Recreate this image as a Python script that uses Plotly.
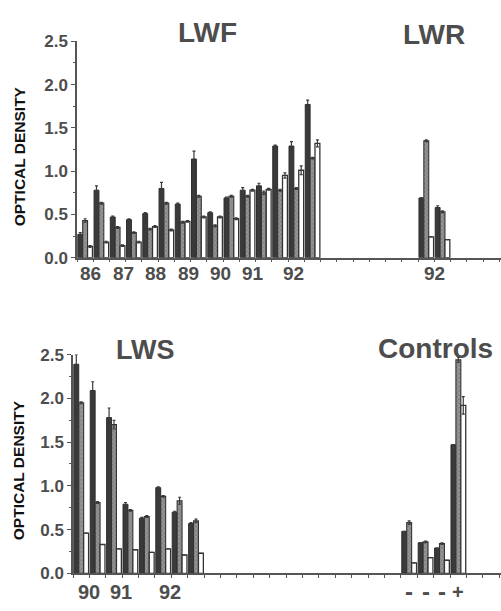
import plotly.graph_objects as go

W, H = 501, 611

# ---------------- data ----------------
# top panel: LWF (groups 0..14) and LWR (groups 21, 22)
lwf_groups = list(range(15))
lwf_dark  = [0.27, 0.78, 0.47, 0.44, 0.51, 0.80, 0.62, 1.14, 0.52, 0.69, 0.78, 0.83, 1.29, 1.29, 1.77]
lwf_dark_err = [0.02, 0.05, 0.01, 0.01, 0.01, 0.07, 0.01, 0.09, 0.01, 0.01, 0.03, 0.03, 0.01, 0.05, 0.05]
lwf_hatch = [0.43, 0.63, 0.35, 0.29, 0.33, 0.63, 0.41, 0.71, 0.37, 0.71, 0.71, 0.75, 0.78, 0.80, 1.15]
lwf_hatch_err = [0.02, 0.01, 0.01, 0.01, 0.01, 0.01, 0.01, 0.01, 0.01, 0.01, 0.01, 0.02, 0.01, 0.01, 0.01]
lwf_white = [0.13, 0.18, 0.14, 0.18, 0.36, 0.32, 0.42, 0.47, 0.47, 0.45, 0.78, 0.79, 0.95, 1.01, 1.32]
lwf_white_err = [0.01, 0.01, 0.01, 0.01, 0.01, 0.01, 0.01, 0.01, 0.01, 0.01, 0.01, 0.01, 0.03, 0.05, 0.04]

lwr_groups = [21, 22]
lwr_dark  = [0.69, 0.58]
lwr_dark_err = [0.0, 0.02]
lwr_hatch = [1.35, 0.53]
lwr_hatch_err = [0.01, 0.01]
lwr_white = [0.24, 0.21]
lwr_white_err = [0.0, 0.0]

top_tick_labels = ["86", "87", "88", "89", "90", "91", "92"]
top_tick_pos = [0.85, 2.85, 4.85, 6.85, 8.85, 10.85, 13.3]
lwr_tick_labels = ["92"]
lwr_tick_pos = [22.0]

# bottom panel: LWS (groups 0..7) and Controls (groups 20..23)
lws_groups = list(range(8))
lws_dark  = [2.39, 2.09, 1.78, 0.79, 0.63, 0.98, 0.70, 0.57]
lws_dark_err = [0.11, 0.10, 0.11, 0.02, 0.01, 0.01, 0.01, 0.01]
lws_hatch = [1.95, 0.81, 1.70, 0.72, 0.65, 0.88, 0.83, 0.60]
lws_hatch_err = [0.01, 0.01, 0.05, 0.01, 0.01, 0.01, 0.04, 0.02]
lws_white = [0.46, 0.33, 0.28, 0.27, 0.24, 0.28, 0.21, 0.23]
lws_white_err = [0.0, 0.0, 0.0, 0.0, 0.0, 0.0, 0.0, 0.0]

ctl_groups = [20, 21, 22, 23]
ctl_dark  = [0.48, 0.35, 0.29, 1.47]
ctl_dark_err = [0.0, 0.0, 0.0, 0.0]
ctl_hatch = [0.58, 0.36, 0.34, 2.44]
ctl_hatch_err = [0.02, 0.01, 0.01, 0.03]
ctl_white = [0.12, 0.18, 0.15, 1.92]
ctl_white_err = [0.0, 0.0, 0.0, 0.10]

lws_tick_labels = ["90", "91", "92"]
lws_tick_pos = [0.98, 2.93, 5.9]
ctl_tick_labels = ["-", "-", "-", "+"]
ctl_tick_pos = [20.5, 21.5, 22.5, 23.5]

# ---------------- styling ----------------
GRAY = "#4d4d4d"
AX = "#555555"
FONT = "Liberation Sans, Arial, sans-serif"


def px(xp):
    return xp / W


def py(yp):
    return 1 - yp / H


def series_traces(groups, dark, dark_err, hatch, hatch_err, white, white_err, xa, ya):
    xs = [g + 0.5 for g in groups]
    common = dict(xaxis=xa, yaxis=ya, showlegend=False, hoverinfo="skip")
    err = lambda arr: dict(type="data", array=arr, visible=True, color="#3a3a3a",
                           thickness=1.2, width=1.5)
    return [
        go.Bar(x=xs, y=dark, offsetgroup="a", error_y=err(dark_err),
               marker=dict(color="#3a3a3a", line=dict(color="#2e2e2e", width=1)), **common),
        go.Bar(x=xs, y=hatch, offsetgroup="b", error_y=err(hatch_err),
               marker=dict(color="#8c8c8c", line=dict(color="#333333", width=1.1),
                           pattern=dict(shape="x", fgcolor="#c6c6c6", bgcolor="#858585",
                                        size=3, solidity=0.35)), **common),
        go.Bar(x=xs, y=white, offsetgroup="c", error_y=err(white_err),
               marker=dict(color="#ffffff", line=dict(color="#333333", width=1.3)), **common),
    ]


traces = []
traces += series_traces(lwf_groups, lwf_dark, lwf_dark_err, lwf_hatch, lwf_hatch_err,
                        lwf_white, lwf_white_err, "x", "y")
traces += series_traces(lwr_groups, lwr_dark, lwr_dark_err, lwr_hatch, lwr_hatch_err,
                        lwr_white, lwr_white_err, "x", "y")
traces += series_traces(lws_groups, lws_dark, lws_dark_err, lws_hatch, lws_hatch_err,
                        lws_white, lws_white_err, "x2", "y2")
traces += series_traces(ctl_groups, ctl_dark, ctl_dark_err, ctl_hatch, ctl_hatch_err,
                        ctl_white, ctl_white_err, "x2", "y2")

fig = go.Figure(traces)

xcommon = dict(range=[0, 26.1], showline=True, linecolor=AX, linewidth=1.5,
               showgrid=False, zeroline=False, ticks="outside", ticklen=3,
               tickcolor=AX, tickwidth=1, tick0=0, dtick=1, showticklabels=False)
ycommon = dict(range=[0, 2.5], showline=True, linecolor=AX, linewidth=1.5,
               showgrid=False, zeroline=False, ticks="outside", ticklen=4,
               tickcolor=AX, tickwidth=1.2, tick0=0, dtick=0.5, tickformat=".1f",
               tickfont=dict(family=FONT, size=17, color=GRAY, weight="bold"),
               minor=dict(ticks="outside", ticklen=2, tickcolor=AX, dtick=0.25, tick0=0))

fig.update_layout(
    width=W, height=H, margin=dict(l=0, r=0, t=0, b=0),
    paper_bgcolor="white", plot_bgcolor="white",
    barmode="group", bargap=0.1, bargroupgap=0.0,
    xaxis=dict(domain=[px(77), 1.0], anchor="y", **xcommon),
    yaxis=dict(domain=[py(256.7), py(33.3)], anchor="x", **ycommon),
    xaxis2=dict(domain=[px(73), 1.0], anchor="y2", **xcommon),
    yaxis2=dict(domain=[py(582.5), py(356.7)], anchor="x2", **ycommon),
)

ann = []


def label(text, x, xref, ypix, size, color=GRAY, angle=0):
    ann.append(dict(text="<b>%s</b>" % text, x=x, xref=xref, y=py(ypix), yref="paper",
                    showarrow=False, xanchor="center", yanchor="middle", textangle=angle,
                    font=dict(family=FONT, size=size, color=color)))


for t, p in zip(top_tick_labels, top_tick_pos):
    label(t, p, "x", 273, 19)
for t, p in zip(lwr_tick_labels, lwr_tick_pos):
    label(t, p, "x", 273, 19)
for t, p in zip(lws_tick_labels, lws_tick_pos):
    label(t, p, "x2", 602, 20)
for t, p in zip(ctl_tick_labels[:3], ctl_tick_pos[:3]):
    label(t, p, "x2", 601, 24)
for t, p in zip(ctl_tick_labels[3:], ctl_tick_pos[3:]):
    label(t, p, "x2", 602, 20)

label("LWF", px(207), "paper", 24, 28)
label("LWR", px(434), "paper", 26, 28)
label("LWS", px(145), "paper", 352, 27)
label("Controls", px(435), "paper", 350, 28)

label("OPTICAL DENSITY", px(19), "paper", 152, 15.5, color="#111111", angle=-90)
label("OPTICAL DENSITY", px(18), "paper", 476, 15.5, color="#111111", angle=-90)

fig.update_layout(annotations=ann)
fig.write_html("out.html")
